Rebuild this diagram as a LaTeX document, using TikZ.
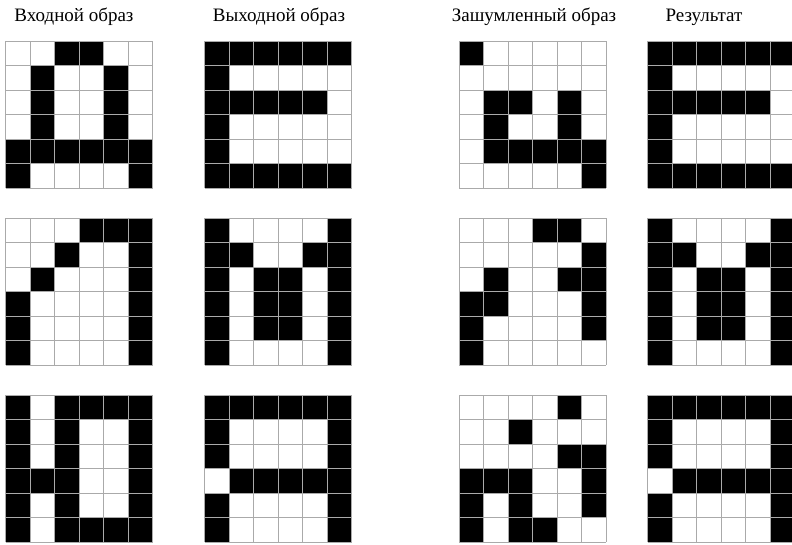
\documentclass[tikz,border=0pt]{standalone}
\usepackage{fontspec}
\setmainfont{Liberation Serif}
\definecolor{gridgray}{HTML}{AAAAAA}
\tikzset{
  gridline/.style={draw=gridgray, line width=0.9pt},
  label/.style={anchor=base, inner sep=0pt, font=\fontsize{19}{22}\selectfont}
}
\newcommand\cs{24.5}
\newcommand\cellA[3]{\ifnum#3=1 \fill[black] ({#1*\cs},{-#2*\cs}) rectangle ++(\cs,-\cs);\fi}
\newcommand\rowA[7]{\cellA{0}{#1}{#2}\cellA{1}{#1}{#3}\cellA{2}{#1}{#4}\cellA{3}{#1}{#5}\cellA{4}{#1}{#6}\cellA{5}{#1}{#7}}
\newcommand\pixgrid[8]{%
  \begin{scope}[shift={#1}]
    \rowA{0}#2\rowA{1}#3\rowA{2}#4\rowA{3}#5\rowA{4}#6\rowA{5}#7
    \foreach \k in {0,...,6}{
      \draw[gridline] ({\k*\cs},0) -- ({\k*\cs},{-6*\cs});
      \draw[gridline] (0,{-\k*\cs}) -- ({6*\cs},{-\k*\cs});
    }
  \end{scope}}
\begin{document}
\begin{tikzpicture}[x=1pt,y=1pt]
\useasboundingbox (0,0) rectangle (792,-544);
\fill[white] (0,0) rectangle (792,-544);
% labels
\node[label] (l1) at (74,-21) {Входной образ};
\node[label] (l2) at (279,-21) {Выходной образ};
\node[label] (l3) at (534,-21) {Зашумленный образ};
\node[label] (l4) at (704,-21) {Результат};
% row 1
\pixgrid{(5.5,-41)}{001100}{010010}{010010}{010010}{111111}{100001}{}
\pixgrid{(204.5,-41)}{111111}{100000}{111110}{100000}{100000}{111111}{}
\pixgrid{(459,-41)}{100000}{000000}{011010}{010010}{011111}{000001}{}
\pixgrid{(647.5,-41)}{111111}{100000}{111110}{100000}{100000}{111111}{}
% row 2
\pixgrid{(5.5,-218)}{000111}{001001}{010001}{100001}{100001}{100001}{}
\pixgrid{(204.5,-218)}{100001}{110011}{101101}{101101}{101101}{100001}{}
\pixgrid{(459,-218)}{000110}{000001}{010011}{110001}{100001}{100000}{}
\pixgrid{(647.5,-218)}{100001}{110011}{101101}{101101}{101101}{100001}{}
% row 3
\pixgrid{(5.5,-395)}{101111}{101001}{101001}{111001}{101001}{101111}{}
\pixgrid{(204.5,-395)}{111111}{100001}{100001}{011111}{100001}{100001}{}
\pixgrid{(459,-395)}{000010}{001000}{000011}{111001}{101001}{101100}{}
\pixgrid{(647.5,-395)}{111111}{100001}{100001}{011111}{100001}{100001}{}
\end{tikzpicture}
\end{document}
